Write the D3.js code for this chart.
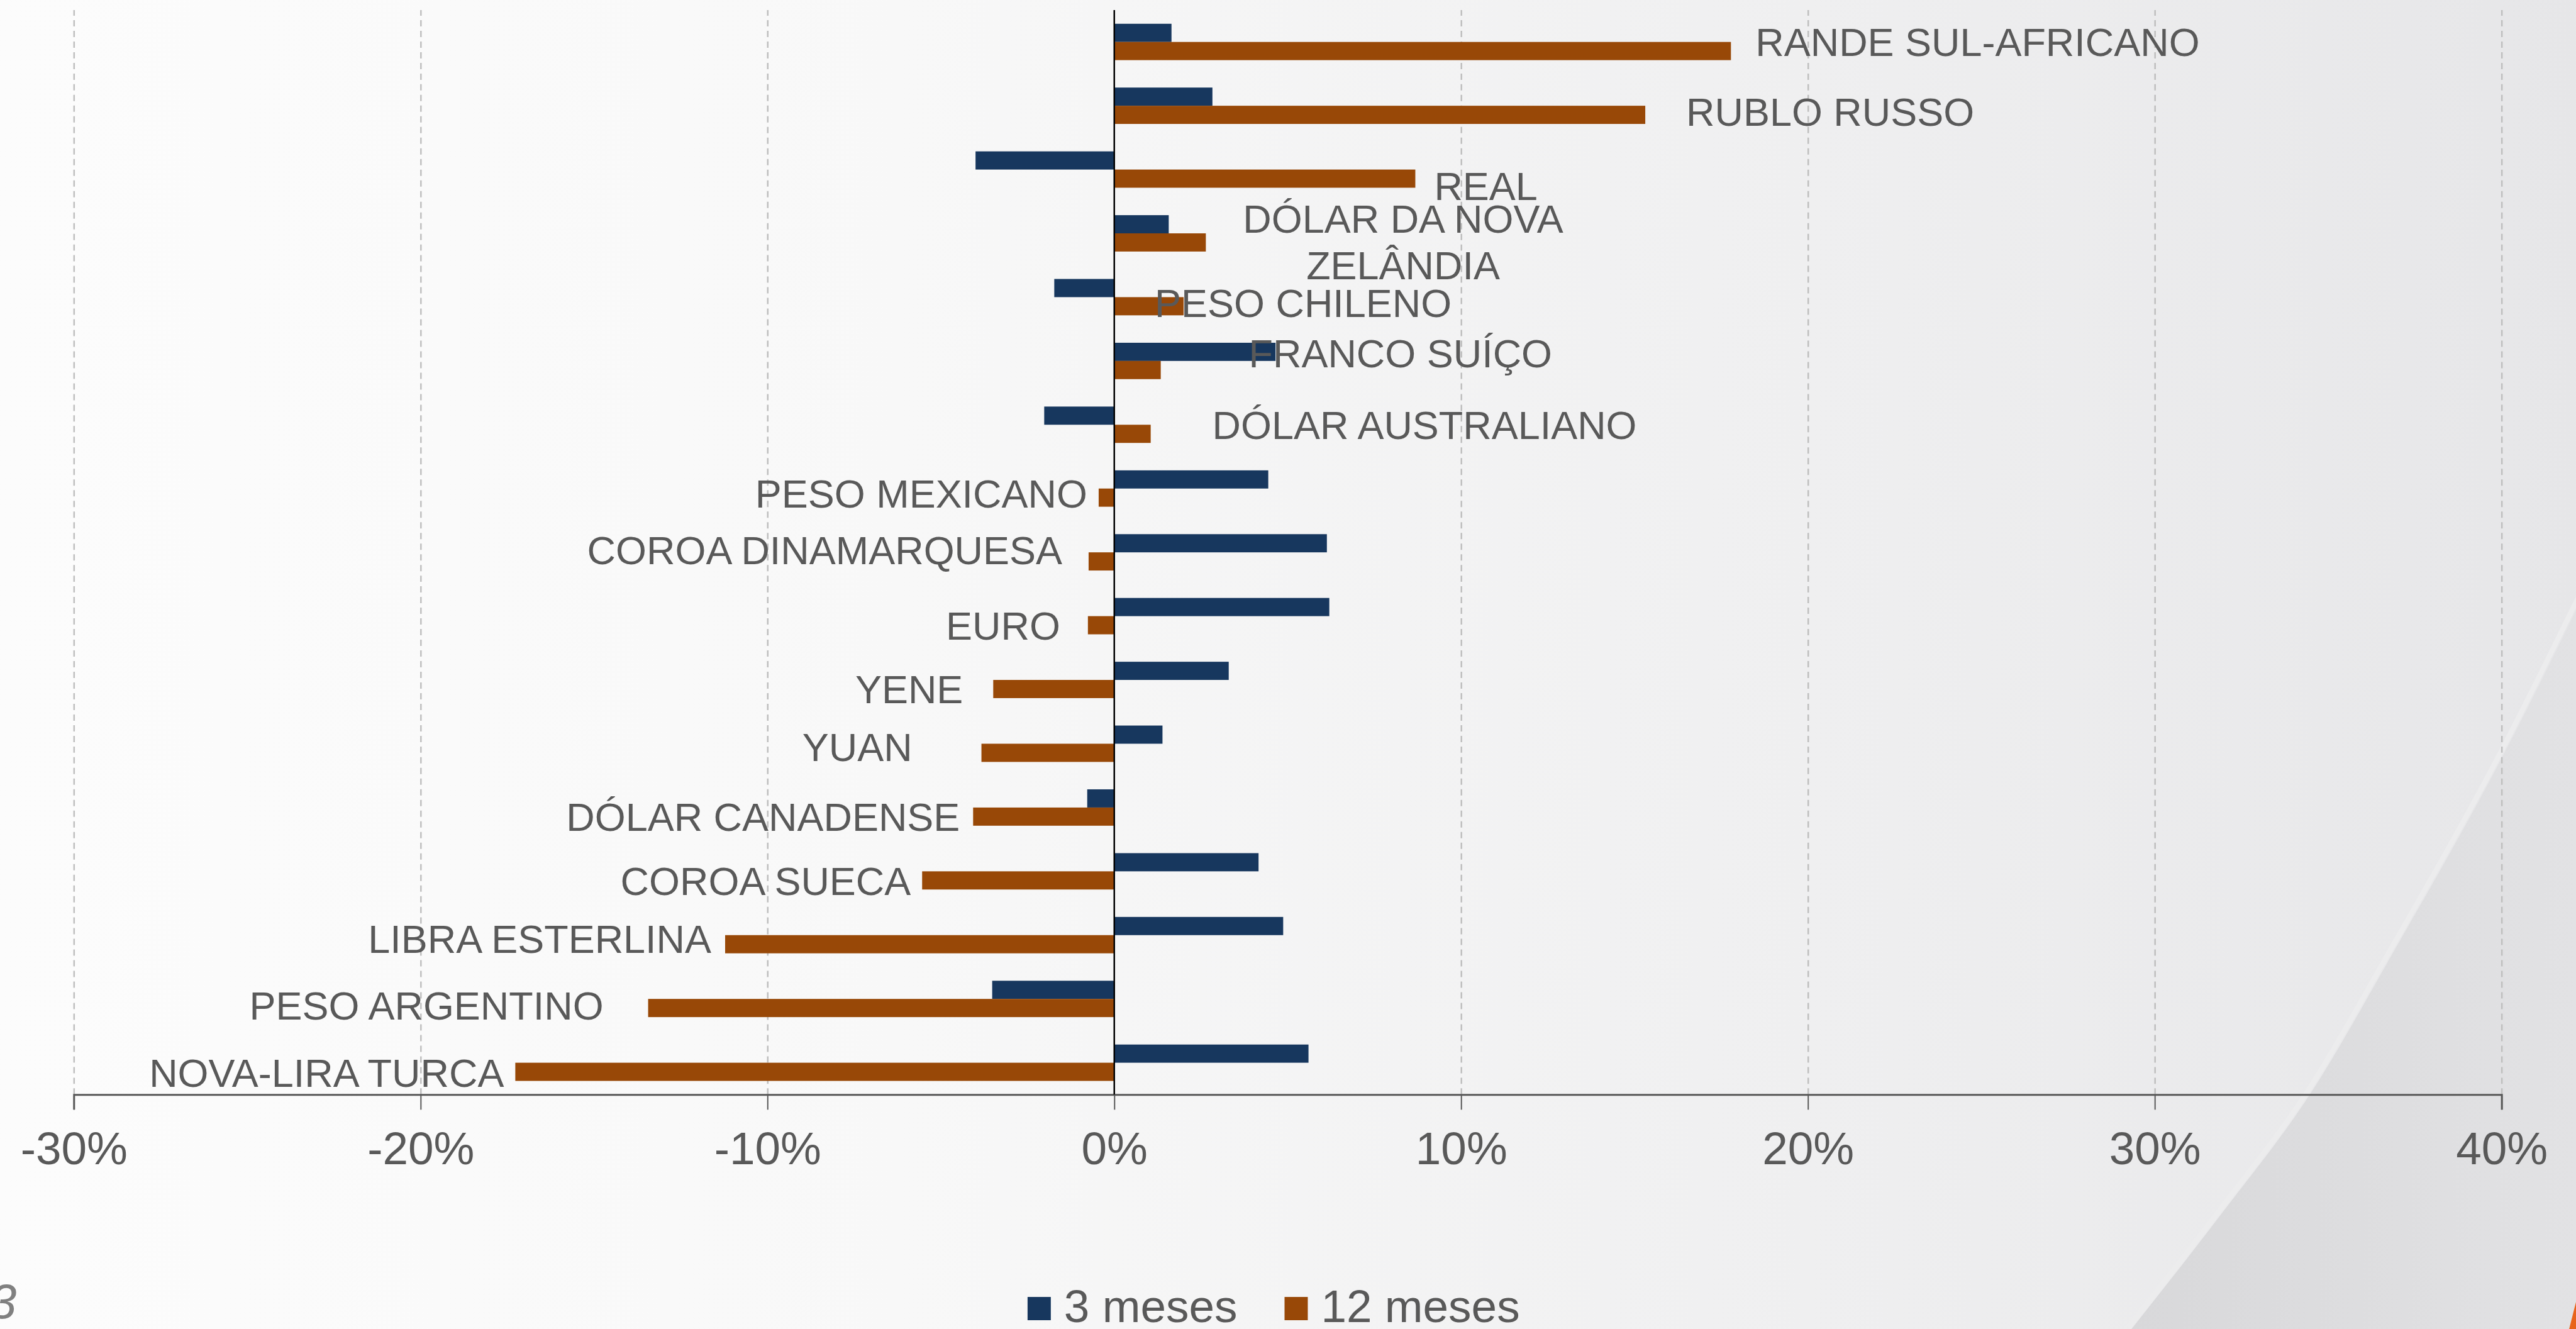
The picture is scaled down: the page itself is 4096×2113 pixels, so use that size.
<!DOCTYPE html>
<html>
<head>
<meta charset="utf-8">
<title>Variação das moedas</title>
<script src="https://cdn.jsdelivr.net/npm/d3@7"></script>
<style>
  body { margin: 0; overflow: hidden; background: #fcfcfc; }
  svg { display: block; }
  text { font-family: "Liberation Sans", Arial, sans-serif; }
</style>
</head>
<body>
<div id="chart"></div>
<script>
// dados (% de variação)
var categorias = ["RANDE SUL-AFRICANO", "RUBLO RUSSO", "REAL", "DÓLAR DA NOVA\nZELÂNDIA", "PESO CHILENO",
  "FRANCO SUÍÇO", "DÓLAR AUSTRALIANO", "PESO MEXICANO", "COROA DINAMARQUESA", "EURO", "YENE", "YUAN",
  "DÓLAR CANADENSE", "COROA SUECA", "LIBRA ESTERLINA", "PESO ARGENTINO", "NOVA-LIRA TURCA"];
var tresMeses = [1.65, 2.83, -4.0, 1.57, -1.73, 4.65, -2.02, 4.44, 6.13, 6.20, 3.30, 1.39, -0.78, 4.16, 4.87, -3.52, 5.60];
var dozeMeses = [17.78, 15.31, 8.68, 2.64, 2.0, 1.34, 1.05, -0.45, -0.74, -0.76, -3.49, -3.83, -4.07, -5.54, -11.22, -13.44, -17.27];
var series = ["3 meses", "12 meses"];
var ticks = [-30, -20, -10, 0, 10, 20, 30, 40];

// deslocamento manual dos rótulos (px), a partir do fim da barra de 12 meses
var labelNudge = [[39, -15], [65, -5], [30, 11], [314, -1], [-46, -5], [140, -27], [98, -14],
  [-18, -7], [-42, -18], [-44, 0], [-48, 0], [-110, -9], [-21, 0], [-18, 1], [-22, -9], [-71, -4], [-18, 1]];

var W = 4099, H = 2115;
var cores = {"3 meses": "#17375e", "12 meses": "#984807"};

var svg = d3.select("#chart").append("svg")
  .attr("width", 4096).attr("height", 2113)
  .attr("viewBox", "0 0 " + W + " " + H);

var defs = svg.append("defs");
var bg = defs.append("linearGradient").attr("id", "bg").attr("x1", "0%").attr("x2", "100%");
bg.append("stop").attr("offset", "0%").style("stop-color", "#fcfcfc");
bg.append("stop").attr("offset", "35%").style("stop-color", "#f8f8f8");
bg.append("stop").attr("offset", "70%").style("stop-color", "#efeff0");
bg.append("stop").attr("offset", "100%").style("stop-color", "#e6e6e8");
var sw = defs.append("linearGradient").attr("id", "sw").attr("x1", "0%").attr("x2", "100%");
sw.append("stop").attr("offset", "0%").style("stop-color", "#d8d8da");
sw.append("stop").attr("offset", "100%").style("stop-color", "#e2e2e4");

svg.append("rect").attr("x", -10).attr("y", -10).attr("width", W + 20).attr("height", H + 20).attr("fill", "url(#bg)");

// faixa curva decorativa no canto inferior direito
var curva = [[3392, 2115], [3534, 1933], [3677, 1740], [3810, 1513], [3983, 1203], [4110, 950]];
var linhaCurva = d3.line().curve(d3.curveMonotoneX);
svg.append("path")
  .attr("d", linhaCurva(curva) + "L4110,2125L3392,2125Z")
  .attr("fill", "url(#sw)");
svg.append("path")
  .attr("d", linhaCurva(curva))
  .attr("fill", "none").attr("stroke", "#ececed").attr("stroke-width", 8).attr("transform", "translate(-5,-3)");
svg.append("path").attr("d", "M4105,2050L4086,2125L4105,2125Z").attr("fill", "#e8641b");

// número da página
svg.append("text").attr("x", -17).attr("y", 2098)
  .style("font-size", "77px").style("font-style", "italic").attr("fill", "#808080").text("3");

var yTop = 16, yBottom = 1742;
var x = d3.scaleLinear().domain([-30, 40]).range([117, 3981]);
var y = d3.scaleBand().domain(categorias).range([yTop, yBottom]).paddingInner(0.43).paddingOuter(0.215);
var ySub = d3.scaleBand().domain(series).range([0, y.bandwidth()]);

// linhas de grade
var grid = svg.append("g").attr("transform", "translate(0," + yBottom + ")")
  .call(d3.axisBottom(x).tickValues(ticks.filter(function(t){ return t != 0; }))
    .tickSize(-(yBottom - yTop)).tickFormat(""));
grid.select(".domain").remove();
grid.selectAll(".tick line").attr("stroke", "#bfbfbf").attr("stroke-width", 2.5).attr("stroke-dasharray", "10,7");

// barras
var dados = categorias.map(function(c, i) {
  return {cat: c, valores: [{s: "3 meses", v: tresMeses[i]}, {s: "12 meses", v: dozeMeses[i]}]};
});
var grupos = svg.append("g").selectAll("g").data(dados).enter().append("g")
  .attr("transform", function(d) { return "translate(0," + y(d.cat) + ")"; });
grupos.selectAll("rect").data(function(d) { return d.valores; }).enter().append("rect")
  .attr("x", function(d) { return x(Math.min(0, d.v)); })
  .attr("y", function(d) { return ySub(d.s); })
  .attr("width", function(d) { return Math.abs(x(d.v) - x(0)); })
  .attr("height", ySub.bandwidth())
  .attr("fill", function(d) { return cores[d.s]; });

// eixo
var eixo = svg.append("g").attr("transform", "translate(0," + yBottom + ")")
  .call(d3.axisBottom(x).tickValues(ticks).tickSize(24).tickPadding(35)
    .tickFormat(function(d) { return d + "%"; }));
eixo.select(".domain").attr("stroke", "#595959").attr("stroke-width", 3);
eixo.selectAll(".tick line").attr("stroke", "#595959").attr("stroke-width", 2);
eixo.selectAll(".tick text").attr("fill", "#595959").style("font-size", "73px")
  .style("font-family", "'Liberation Sans', Arial, sans-serif");

// linha do zero
svg.append("line").attr("x1", x(0)).attr("x2", x(0)).attr("y1", yTop).attr("y2", yBottom)
  .attr("stroke", "#000").attr("stroke-width", 2.5);

// rótulos das categorias
var fs = 63, lh = 74;
categorias.forEach(function(c, i) {
  var v = dozeMeses[i];
  var linhas = c.split("\n");
  var cy = y(c) + ySub("12 meses") + ySub.bandwidth() / 2 + labelNudge[i][1];
  var lx = x(v) + labelNudge[i][0];
  var anchor = linhas.length > 1 ? "middle" : (v >= 0 ? "start" : "end");
  var t = svg.append("text").attr("text-anchor", anchor).attr("fill", "#595959").style("font-size", fs + "px");
  linhas.forEach(function(l, k) {
    t.append("tspan").attr("x", lx)
      .attr("y", cy + 0.358 * fs + (k - (linhas.length - 1) / 2) * lh)
      .text(l);
  });
});

// legenda
var leg = svg.append("g");
var legX = [1635, 2044];
series.forEach(function(s, i) {
  leg.append("rect").attr("x", legX[i]).attr("y", 2064).attr("width", 37).attr("height", 37).attr("fill", cores[s]);
  leg.append("text").attr("x", legX[i] + 58).attr("y", 2104).attr("fill", "#595959")
    .style("font-size", "73px").text(s);
});
</script>
</body>
</html>
